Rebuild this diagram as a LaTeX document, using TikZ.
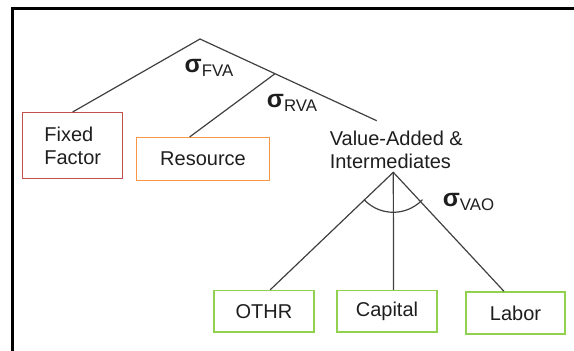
\documentclass[tikz,border=0pt]{standalone}
\usepackage{fontspec}
\setmainfont{Liberation Sans}
\definecolor{ffred}{RGB}{192,80,77}
\definecolor{resorange}{RGB}{247,150,70}
\definecolor{leafgreen}{RGB}{146,208,80}
\definecolor{linegray}{RGB}{64,64,64}
\definecolor{textdark}{RGB}{30,30,30}
\newcommand{\elast}[1]{{\fontsize{12.5}{12.5}\selectfont\bfseries σ}\raisebox{-2pt}{\fontsize{8.4}{8.4}\selectfont #1}}

\begin{document}
\begin{tikzpicture}[
    x=0.5pt, y=-0.5pt,
    every node/.style={font=\fontsize{10}{11.5}\selectfont, text=textdark},
    tree/.style={draw=linegray, line width=0.6pt},
    box/.style={draw, line width=0.75pt, inner sep=0pt},
    leaf/.style={box, draw=leafgreen, minimum width=50pt, minimum height=20.7pt}
    ]
    \useasboundingbox (0,0) rectangle (574,350);
    \clip (0,0) rectangle (574,350);
    \draw [line width=1.3pt] (12.3,360) -- (12.3,8.7) -- (590,8.7);

    \node [box, draw=ffred, minimum width=50pt, minimum height=32.8pt, align=left] (fixed) at (72.7,145.5) {Fixed\\Factor};
    \node [box, draw=resorange, minimum width=66.3pt, minimum height=21.5pt] (res) at (203,159.2) {Resource};
    \node [anchor=north west, inner sep=0pt, align=left] (va) at (329.4,130.5) {Value-Added \&\\Intermediates};
    \node [leaf] (othr) at (264,311.3) {OTHR};
    \node [leaf] (cap) at (387,311.3) {Capital};
    \node [leaf, minimum width=49.7pt, minimum height=21pt] (lab) at (515.5,313) {Labor};

    \coordinate (top) at (200,39);
    \coordinate (rva) at (275,73.7);
    \coordinate (vaend) at (376.7,120.7);
    \coordinate (vatop) at (393.3,172.3);

    \draw [tree] (fixed.north) -- (top) -- (vaend);
    \draw [tree] (rva) -- (res.121);
    \draw [tree] (othr.74) -- (vatop) -- (lab.118);
    \draw [tree] (vatop) -- (cap.73);
    \draw [tree] ([shift=(43:40)]vatop) arc [start angle=43, end angle=137, radius=40];

    \node (sfva) at (209,67.5) {\elast{FVA}};
    \node (srva) at (292,103) {\elast{RVA}};
    \node (svao) at (468.5,201.5) {\elast{VAO}};
\end{tikzpicture}
\end{document}
